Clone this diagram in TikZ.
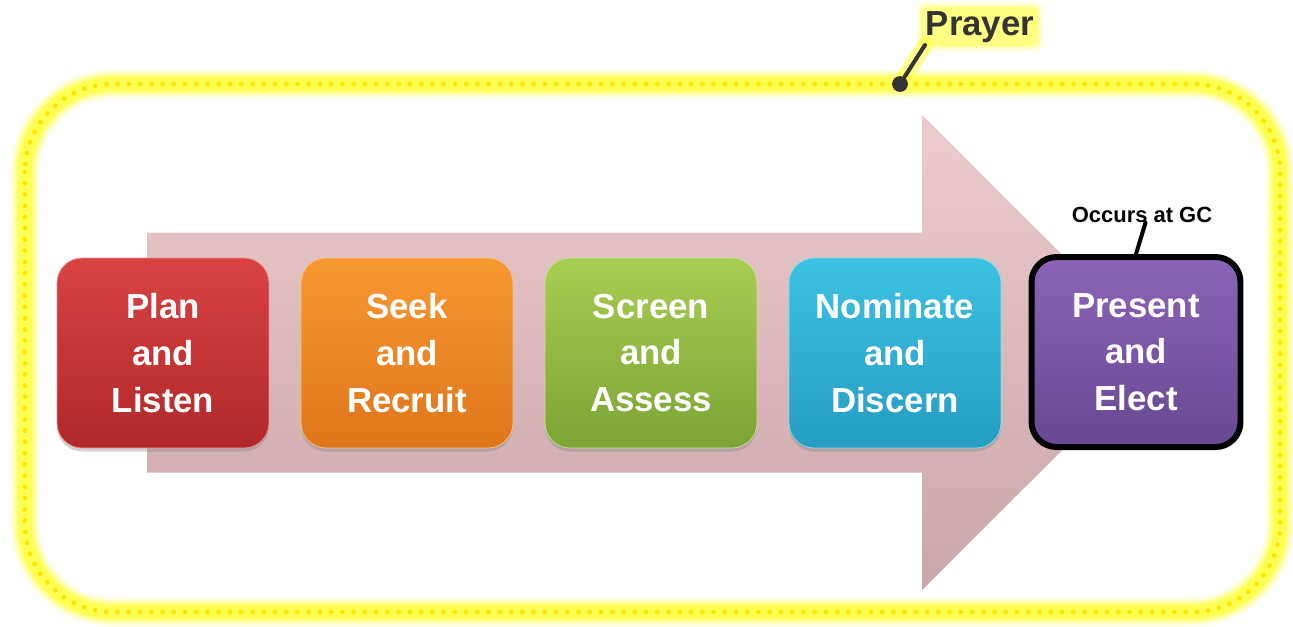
\documentclass[tikz,border=0pt]{standalone}
\usepackage{fontspec}
\setmainfont{Liberation Sans}
\usetikzlibrary{shadows}
\definecolor{glowyel}{RGB}{255,255,70}
\definecolor{dotyel}{RGB}{255,232,0}
\definecolor{leadgray}{RGB}{52,52,52}
\definecolor{arrowtop}{RGB}{236,204,205}
\definecolor{arrowbot}{RGB}{201,166,169}
\definecolor{redtop}{RGB}{218,66,66}
\definecolor{redbot}{RGB}{176,40,42}
\definecolor{orgtop}{RGB}{248,152,48}
\definecolor{orgbot}{RGB}{222,118,28}
\definecolor{grntop}{RGB}{167,205,80}
\definecolor{grnbot}{RGB}{124,164,54}
\definecolor{cyntop}{RGB}{60,194,226}
\definecolor{cynbot}{RGB}{38,156,194}
\definecolor{purtop}{RGB}{140,100,184}
\definecolor{purbot}{RGB}{104,72,146}

\begin{document}
\begin{tikzpicture}[x=0.02cm,y=-0.02cm,stepbox/.style={rounded corners=0.5cm,minimum width=4.24cm,minimum height=3.8cm,inner sep=0pt,align=center,text=white,font=\fontsize{19.8}{26.6}\selectfont\bfseries,drop shadow={opacity=0.35,shadow xshift=0pt,shadow yshift=-2pt}},band/.style={draw=glowyel,rounded corners=1.76cm},lead/.style={line width=2.3pt,line cap=round}]
\useasboundingbox (0,0) rectangle (1293,626);

% glowing dotted frame
\foreach \w/\o in {17/0.12,14/0.25,11/0.45,8/0.8}
  \draw[band,line width=\w pt,opacity=\o] (25,84) rectangle (1280,612);
\draw[band,draw=dotyel,line width=2.8pt,line cap=round,dash pattern=on 0pt off 6.4pt] (25,84) rectangle (1280,612);

% big arrow behind the steps
\shade[top color=arrowtop,bottom color=arrowbot] (147,232.5) -- (922,232.5) -- (922,115) -- (1160,352.5) -- (922,590) -- (922,472.5) -- (147,472.5) -- cycle;

\node[stepbox,top color=redtop,bottom color=redbot,draw=redtop!60!white] (plan) at (163,353) {Plan\\and\\Listen};
\node[stepbox,top color=orgtop,bottom color=orgbot,draw=orgtop!60!white] (seek) at (407,353) {Seek\\and\\Recruit};
\node[stepbox,top color=grntop,bottom color=grnbot,draw=grntop!60!white] (screen) at (651,353) {Screen\\and\\Assess};
\node[stepbox,top color=cyntop,bottom color=cynbot,draw=cyntop!60!white] (nominate) at (895,353) {Nominate\\and\\Discern};
\node[stepbox,top color=purtop,bottom color=purbot,draw=black,line width=3.4pt,minimum width=4.18cm] (present) at (1136,352) {Present\\and\\Elect};

% note over the last step
\node[inner sep=0pt,anchor=base,font=\fontsize{12.5}{15}\selectfont\bfseries] (occurs) at (1142,222) {Occurs at GC};
\draw[lead] ([xshift=2pt]occurs.south) -- (present.north);

% prayer label: halo first, then text, pointer and dot
\coordinate (ptail) at (925,45);
\coordinate (pend) at (900,84);
\draw[line width=9pt,draw=glowyel,opacity=0.6,line cap=round] (ptail) -- (pend);
\node[inner sep=0pt,anchor=base,font=\fontsize{19.8}{24}\selectfont\bfseries,text=leadgray] (prayer) at (980,35) {\phantom{Prayer}};
\foreach \m/\o in {5pt/0.15,3.5pt/0.3,2pt/0.45}
  \fill[glowyel,opacity=\o,rounded corners=4pt] ([shift={(-\m,-\m)}]prayer.south west) rectangle ([shift={(\m,\m)}]prayer.north east);
\node[inner sep=0pt,anchor=base,font=\fontsize{19.8}{24}\selectfont\bfseries,text=leadgray] at (prayer.base) {Prayer};
\node[circle,fill=leadgray,inner sep=0pt,minimum size=9pt] (pdot) at (pend) {};
\draw[lead,draw=leadgray] (ptail) -- (pdot);
\end{tikzpicture}
\end{document}
